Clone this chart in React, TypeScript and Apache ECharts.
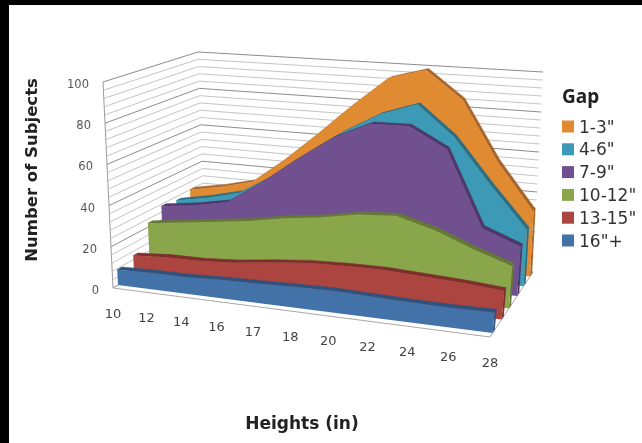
import React, { useEffect, useRef } from "react";
import * as echarts from "echarts";

const categories = ["10", "12", "14", "16", "17", "18", "20", "22", "24", "26", "28"];
const yTicks = [0, 20, 40, 60, 80, 100];
const minorTicks = [0, 4, 8, 12, 16, 20, 24, 28, 32, 36, 40, 44, 48, 52, 56, 60, 64, 68, 72, 76, 80, 84, 88, 92, 96, 100];
const gap13 = [28, 31, 35, 48, 63, 79, 94, 99, 85, 55, 32];
const gap46 = [26, 29, 33, 43, 56, 68, 78, 84, 69, 47, 27];
const gap79 = [27, 29, 32, 43, 56, 68, 76, 76, 66, 30, 23];
const gap1012 = [22, 24, 26, 28, 31, 33, 36, 37, 32, 25, 19];
const gap1315 = [10, 11, 11, 12, 14, 15.5, 16, 16, 15, 14, 12.5];
const gap16 = [7.5, 8, 8, 8.7, 9, 9.5, 9.7, 9.2, 8.7, 8.5, 8.7];

// Perspective box corners, [u][v] of floor and of the plane at 100
const F00 = [113, 288], F10 = [490, 337], F01 = [205, 234], F11 = [533, 272];
const T00 = [103, 82], T10 = [514, 97], T01 = [198, 52], T11 = [543, 72];
const GRID = 100;

function lerp(a: number, b: number, t: number) { return a + (b - a) * t; }
function warp(u: number) { return u + 0.12 * u * (u - 1); }
function project(u0: number, v: number, h: number) {
  const u = warp(u0);
  const out = [0, 0];
  for (let k = 0; k < 2; k++) {
    const f = lerp(lerp(F00[k], F10[k], u), lerp(F01[k], F11[k], u), v);
    const t = lerp(lerp(T00[k], T10[k], u), lerp(T01[k], T11[k], u), v);
    out[k] = lerp(f, t, h);
  }
  return out;
}
// pixel from the hidden axes -> fractions of the box
function fromAxes(api: any, i: number, val: number) {
  const p = api.coord([i, val]);
  return [p[0] / GRID, (GRID - p[1]) / GRID];
}

const layers = [
  { name: '1-3"', values: gap13, color: "#E08A32", dark: "#A8642A", vL: 0.86, vR: 0.93 },
  { name: '4-6"', values: gap46, color: "#3C9AB6", dark: "#2A6F86", vL: 0.71, vR: 0.78 },
  { name: '7-9"', values: gap79, color: "#71508F", dark: "#4F3868", vL: 0.55, vR: 0.63 },
  { name: '10-12"', values: gap1012, color: "#8AA64A", dark: "#647A34", vL: 0.4, vR: 0.44 },
  { name: '13-15"', values: gap1315, color: "#AC4440", dark: "#7E2E2C", vL: 0.23, vR: 0.27 },
  { name: '16"+', values: gap16, color: "#4272A8", dark: "#2E527C", vL: 0.054, vR: 0.06 },
];
const DV = 0.05;

function layerSeries(layer: (typeof layers)[number], z: number) {
  return {
    type: "custom",
    name: layer.name,
    z,
    silent: true,
    clip: false,
    itemStyle: { color: layer.color },
    data: layer.values.map((v, i) => [i, v]),
    encode: { x: 0, y: 1 },
    renderItem: (params: any, api: any) => {
      if (params.dataIndex !== 0) return null;
      const pts = layer.values.map((val, i) => fromAxes(api, i, val));
      const vAt = (u: number) => lerp(layer.vL, layer.vR, warp(u));
      const front = pts.map(([u, h]) => project(u, vAt(u), h));
      const back = pts.map(([u, h]) => project(u, vAt(u) + DV, h));
      const last = pts[pts.length - 1];
      const first = pts[0];
      const base = [project(last[0], vAt(last[0]), 0), project(first[0], vAt(first[0]), 0)];
      const side = [
        project(last[0], vAt(last[0]), 0),
        project(last[0], vAt(last[0]), last[1]),
        project(last[0], vAt(last[0]) + DV, last[1]),
        project(last[0], vAt(last[0]) + DV, 0),
      ];
      return {
        type: "group",
        children: [
          { type: "polygon", shape: { points: [...front, ...back.slice().reverse()] }, style: { fill: layer.dark, stroke: layer.dark, lineWidth: 0.5 } },
          { type: "polygon", shape: { points: side }, style: { fill: layer.dark } },
          { type: "polygon", shape: { points: [...front, ...base] }, style: { fill: layer.color } },
        ],
      };
    },
  };
}

const wallSeries = {
  type: "custom",
  z: 1,
  silent: true,
  clip: false,
  data: minorTicks.map((t) => [0, t]),
  encode: { x: 0, y: 1 },
  renderItem: (params: any, api: any) => {
    const val = api.value(1);
    const [, h] = fromAxes(api, 0, val);
    const a = project(0, 0, h), b = project(0, 1, h), c = project(1, 1, h);
    const major = yTicks.includes(val);
    const stroke = major ? "#8c8c8c" : "#bdbdbd";
    const children: any[] = [
      { type: "polyline", shape: { points: [a, b, c] }, style: { stroke, lineWidth: major ? 1 : 0.9, fill: "none" } },
    ];
    if (val === 0) {
      const top = project(0, 0, 1);
      const fr = project(1, 0, 0);
      const br = project(1, 1, 0);
      children.push(
        { type: "line", shape: { x1: a[0], y1: a[1], x2: top[0], y2: top[1] }, style: { stroke: "#9a9a9a", lineWidth: 1 } },
        { type: "polyline", shape: { points: [a, fr, br] }, style: { stroke: "#a8a8a8", lineWidth: 1, fill: "none" } },
      );
    }
    return { type: "group", children };
  },
};

const xLabelSeries = {
  type: "custom",
  z: 10,
  silent: true,
  clip: false,
  data: categories.map((c, i) => [i, 0]),
  encode: { x: 0, y: 1 },
  renderItem: (params: any, api: any) => {
    const [u, h] = fromAxes(api, api.value(0), 0);
    const p = project(u, 0, h);
    return {
      type: "text",
      style: { text: categories[params.dataIndex], x: p[0], y: p[1] + 25, align: "center", verticalAlign: "middle", font: '13px "DejaVu Sans"', fill: "#444" },
    };
  },
};

const yLabelSeries = {
  type: "custom",
  z: 10,
  silent: true,
  clip: false,
  data: yTicks.map((t) => [0, t]),
  encode: { x: 0, y: 1 },
  renderItem: (params: any, api: any) => {
    const val = api.value(1);
    const [u, h] = fromAxes(api, 0, val);
    const p = project(u, 0, h);
    return {
      type: "text",
      style: { text: String(val), x: p[0] - 14, y: p[1] + 2, align: "right", verticalAlign: "middle", font: '11.5px "DejaVu Sans"', fill: "#555" },
    };
  },
};

export default function App() {
  const ref = useRef<HTMLDivElement>(null);
  useEffect(() => {
    document.body.style.margin = "0";
    const chart = echarts.init(ref.current!, null, { renderer: "svg" });
    chart.setOption({
      animation: false,
      backgroundColor: "#ffffff",
      grid: { left: 0, top: 0, width: GRID, height: GRID },
      xAxis: { type: "category", data: categories, boundaryGap: false, show: false },
      yAxis: { type: "value", min: 0, max: 100, show: false },
      legend: {
        left: 557,
        top: 112,
        orient: "vertical",
        data: layers.map((l) => l.name),
        icon: "rect",
        itemWidth: 12,
        itemHeight: 12,
        itemGap: 3.8,
        selectedMode: false,
        textStyle: { fontFamily: "DejaVu Sans", fontSize: 17, color: "#333", lineHeight: 19 },
      },
      graphic: [
        { type: "rect", shape: { x: 0, y: 0, width: 642, height: 5 }, style: { fill: "#000" }, z: 20 },
        { type: "rect", shape: { x: 0, y: 0, width: 9, height: 443 }, style: { fill: "#000" }, z: 20 },
        { type: "text", x: 562, y: 86, style: { text: "Gap", font: 'bold 19px "Noto Sans"', fill: "#222" }, z: 20 },
        { type: "text", x: 31, y: 170, rotation: Math.PI / 2, originX: 0, originY: 0, style: { text: "Number of Subjects", align: "center", verticalAlign: "middle", font: 'bold 16.5px "DejaVu Sans"', fill: "#222" }, z: 20 },
        { type: "text", x: 302, y: 423, style: { text: "Heights (in)", align: "center", verticalAlign: "middle", font: 'bold 17px "DejaVu Sans"', fill: "#222" }, z: 20 },
      ],
      series: [
        wallSeries,
        ...layers.map((l, i) => layerSeries(l, 2 + i)),
        xLabelSeries,
        yLabelSeries,
      ],
    });
    return () => chart.dispose();
  }, []);
  return <div ref={ref} style={{ width: 642, height: 443, filter: "blur(0.4px)" }} />;
}
